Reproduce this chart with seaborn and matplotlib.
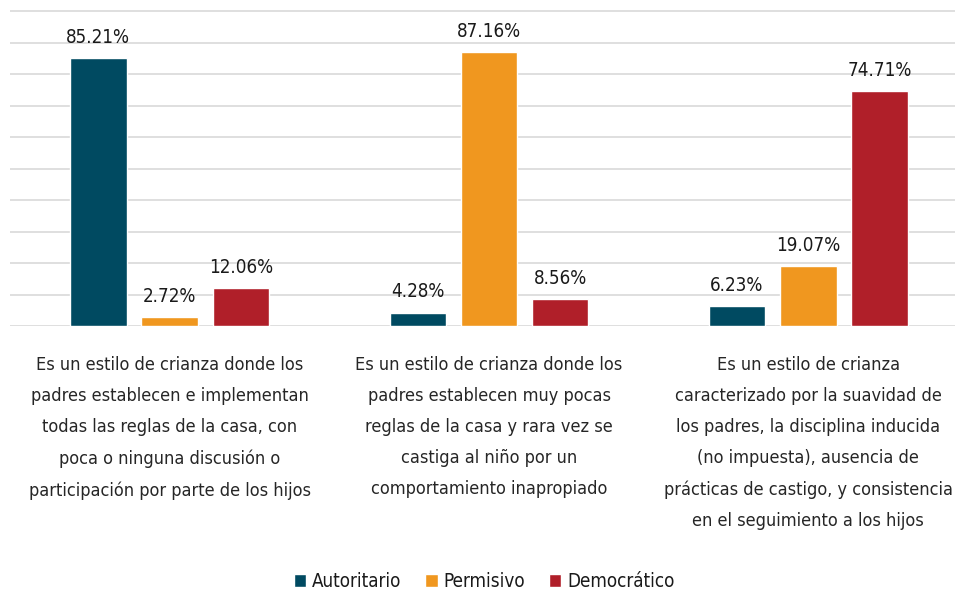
import numpy as np
import pandas as pd
import seaborn as sns
import matplotlib.pyplot as plt

# Datos del grafico
categorias = [
    "Es un estilo de crianza donde los\npadres establecen e implementan\ntodas las reglas de la casa, con\npoca o ninguna discusión o\nparticipación por parte de los hijos",
    "Es un estilo de crianza donde los\npadres establecen muy pocas\nreglas de la casa y rara vez se\ncastiga al niño por un\ncomportamiento inapropiado",
    "Es un estilo de crianza\ncaracterizado por la suavidad de\nlos padres, la disciplina inducida\n(no impuesta), ausencia de\nprácticas de castigo, y consistencia\nen el seguimiento a los hijos",
]
estilos = ["Autoritario", "Permisivo", "Democrático"]
autoritario = [85.21, 4.28, 6.23]
permisivo = [2.72, 87.16, 19.07]
democratico = [12.06, 8.56, 74.71]
colores = ["#004a61", "#f0971f", "#b01f29"]

df = pd.DataFrame({
    "categoria": categorias * 3,
    "estilo": np.repeat(estilos, 3),
    "valor": autoritario + permisivo + democratico,
})

sns.set_style("white")
plt.rcParams["font.family"] = ["DejaVu Sans"]
plt.rcParams["font.stretch"] = "condensed"
plt.rcParams["text.color"] = "#1a1a1a"

fig = plt.figure(figsize=(9.55, 5.94), dpi=100)
ax = fig.add_axes([10 / 955, (594 - 326) / 594, 958 / 955, 316 / 594])

sns.barplot(data=df, x="categoria", y="valor", hue="estilo", palette=colores,
            width=0.67, gap=0.21, ax=ax, saturation=1)

for cont in ax.containers:
    ax.bar_label(cont, labels=[f"{v:.2f}%" for v in cont.datavalues],
                 padding=8, fontsize=13.5, color="#1a1a1a")

ax.set_ylim(0, 100.4)
ax.set_yticks(np.arange(0, 101, 10))
ax.yaxis.grid(True, color="#d9d9d9", linewidth=1.2)
ax.set_axisbelow(True)
ax.tick_params(axis="y", left=False, labelleft=False)
ax.tick_params(axis="x", bottom=False, pad=18, labelsize=13)
for lbl in ax.get_xticklabels():
    lbl.set_linespacing(1.93)
for s in ax.spines.values():
    s.set_visible(False)
ax.set_xlabel("")
ax.set_ylabel("")

handles, labels = ax.get_legend_handles_labels()
ax.get_legend().remove()
fig.legend(handles, labels, loc="center", bbox_to_anchor=(0.507, 0.021), ncol=3,
           frameon=False, fontsize=13.5, handlelength=0.65, handleheight=0.65,
           handletextpad=0.3, columnspacing=1.3)

fig.savefig("out.png", dpi=100)
